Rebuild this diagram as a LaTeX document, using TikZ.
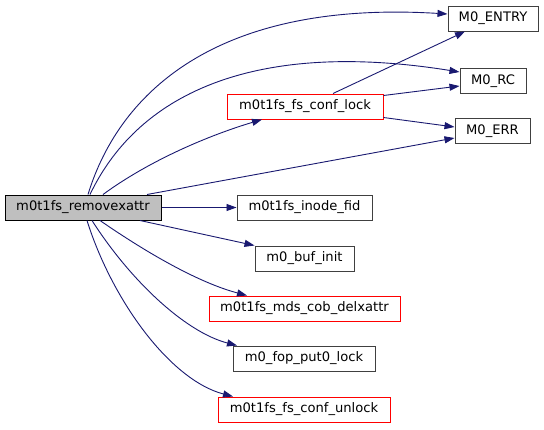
\documentclass[tikz,border=0pt]{standalone}
\usepackage{fontspec}
\setmainfont{DejaVu Sans}
\usetikzlibrary{arrows.meta}
\definecolor{edgeblue}{HTML}{191970}
\definecolor{rootgray}{HTML}{BFBFBF}
\begin{document}
\begin{tikzpicture}[x=1pt, y=-1pt,
  fn/.style={draw=black!75, line width=1pt, fill=white, inner sep=0pt,
             minimum height=25pt, font=\fontsize{13.1}{15}\selectfont},
  fnred/.style={fn, draw=red},
  fnroot/.style={fn, draw=black, fill=rootgray},
  call/.style={draw=edgeblue, line width=0.9pt,
               -{Triangle[length=10pt, width=7pt]}},
]
  \useasboundingbox (0,0) rectangle (544,429);

  % caller
  \node[fnroot, minimum width=156pt] (removexattr) at (83, 207.5) {m0t1fs\_removexattr};

  % right column
  \node[fn, minimum width=90pt] (entry) at (493, 18.5) {M0\_ENTRY};
  \node[fn, minimum width=66pt] (rc)    at (493, 81)   {M0\_RC};
  \node[fn, minimum width=75pt] (err)   at (492.5, 131) {M0\_ERR};

  % middle column
  \node[fnred, minimum width=156pt] (conflock)  at (305, 106.5)   {m0t1fs\_fs\_conf\_lock};
  \node[fn,    minimum width=135pt] (inodefid)  at (304.5, 207.5) {m0t1fs\_inode\_fid};
  \node[fn,    minimum width=99pt]  (bufinit)   at (304.5, 258.5) {m0\_buf\_init};
  \node[fnred, minimum width=191pt] (delxattr)  at (304.5, 308.5) {m0t1fs\_mds\_cob\_delxattr};
  \node[fn,    minimum width=142pt] (fopput)    at (304, 358.5)   {m0\_fop\_put0\_lock};
  \node[fnred, minimum width=172pt] (unlock)    at (304, 409.5)   {m0t1fs\_fs\_conf\_unlock};

  % calls from m0t1fs_removexattr
  \draw[call] ([xshift=5pt]removexattr.north) .. controls (120,90) and (220,0) .. ([yshift=4.5pt]entry.west);
  \draw[call] ([xshift=7pt]removexattr.north) .. controls (140,90) and (260,40) .. ([yshift=9pt]rc.west);
  \draw[call] ([xshift=20pt]removexattr.north) .. controls (150,160) and (210,135) .. ([xshift=-43pt]conflock.south);
  \draw[call] ([xshift=64pt]removexattr.north) -- ([yshift=-7pt]err.west);
  \draw[call] (removexattr.east) -- (inodefid.west);
  \draw[call] ([xshift=57pt]removexattr.south) -- (bufinit.north west);
  \draw[call] ([xshift=17pt]removexattr.south) .. controls (150,255) and (200,283) .. ([xshift=-57.5pt]delxattr.north);
  \draw[call] ([xshift=9pt]removexattr.south) .. controls (130,280) and (185,332) .. ([xshift=-67pt]fopput.north);
  \draw[call] ([xshift=4pt]removexattr.south) .. controls (112,300) and (170,380) .. ([xshift=-71pt]unlock.north);

  % calls from m0t1fs_fs_conf_lock
  \draw[call] ([xshift=28pt]conflock.north) -- ([xshift=-28pt]entry.south);
  \draw[call] ([yshift=11pt]conflock.east) -- ([yshift=-5pt]rc.west);
  \draw[call] ([yshift=-11pt]conflock.east) -- ([yshift=4pt]err.west);

\end{tikzpicture}
\end{document}
